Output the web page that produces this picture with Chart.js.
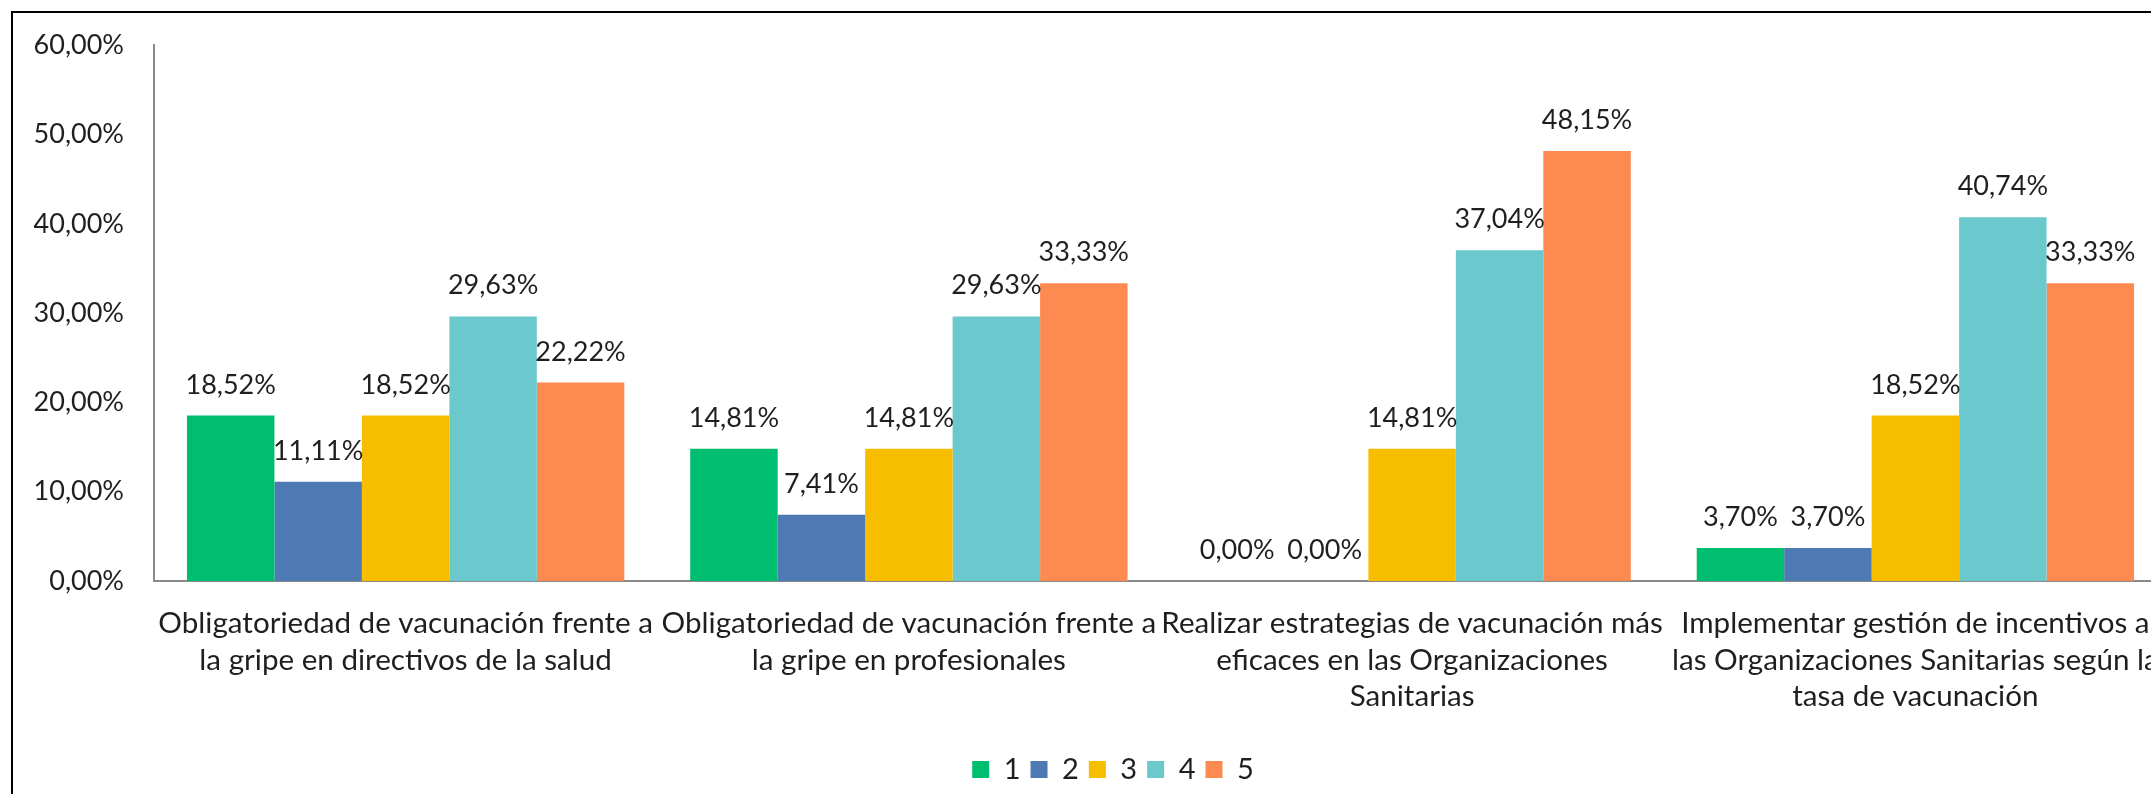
<!DOCTYPE html>
<html><head><meta charset="utf-8">
<script src="https://cdn.jsdelivr.net/npm/chart.js@4.4.1/dist/chart.umd.min.js"></script>
<style>
html,body{margin:0;padding:0;overflow:hidden;background:#fff;width:2151px;height:794px;}
#frame{position:absolute;left:11px;top:11px;width:2400px;height:1000px;border-left:2px solid #000;border-top:2px solid #000;box-sizing:border-box;}
#wrap{position:absolute;left:13px;top:-1px;width:2200px;height:804px;}
</style></head><body>
<div id="frame"></div>
<div id="wrap"><canvas id="c"></canvas></div>
<script>
// ---- data ----
const categories = [
  ["Obligatoriedad de vacunación frente a", "la gripe en directivos de la salud"],
  ["Obligatoriedad de vacunación frente a", "la gripe en profesionales"],
  ["Realizar estrategias de vacunación más", "eficaces en las Organizaciones", "Sanitarias"],
  ["Implementar gestión de incentivos a", "las Organizaciones Sanitarias según la", "tasa de vacunación"]
];
const seriesNames = ["1", "2", "3", "4", "5"];
const series1 = [18.52, 14.81, 0.00, 3.70];
const series2 = [11.11, 7.41, 0.00, 3.70];
const series3 = [18.52, 14.81, 14.81, 18.52];
const series4 = [29.63, 29.63, 37.04, 40.74];
const series5 = [22.22, 33.33, 48.15, 33.33];
const yTickValues = [0, 10, 20, 30, 40, 50, 60];

// ---- styles ----
const seriesColors = ["#00BE70", "#4E7AB4", "#F7BE00", "#6BC8CC", "#FD8A50"];
const FONT = "Lato, 'Open Sans', sans-serif";
const FS_NUM = 27;
const FS_CAT = 29.6;
const FS_LEG = 29;
const TXT = "#1f1f1f";
const AXIS = "#8a8a8a";

const fmt = v => v.toFixed(2).replace('.', ',') + '%';

const allSeries = [series1, series2, series3, series4, series5];
const datasets = allSeries.map((d, i) => ({
  label: seriesNames[i],
  data: d,
  backgroundColor: seriesColors[i],
  borderWidth: 0,
  categoryPercentage: 0.869,
  barPercentage: 1.0
}));

const valueLabels = {
  id: 'valueLabels',
  afterDatasetsDraw(chart) {
    const ctx = chart.ctx;
    ctx.save();
    ctx.font = FS_NUM + "px " + FONT;
    ctx.fillStyle = TXT;
    ctx.textAlign = 'center';
    ctx.textBaseline = 'alphabetic';
    chart.data.datasets.forEach((ds, di) => {
      const meta = chart.getDatasetMeta(di);
      meta.data.forEach((bar, i) => {
        ctx.fillText(fmt(ds.data[i]), bar.x, bar.y - 22);
      });
    });
    ctx.restore();
  }
};

// center the legend on the whole chart frame (Excel style)
const legendShift = {
  id: 'legendShift',
  afterLayout(chart) {
    if (chart.legend) { chart.legend.left += 23; chart.legend.right += 23; }
  }
};

new Chart(document.getElementById('c'), {
  type: 'bar',
  data: { labels: categories, datasets },
  options: {
    responsive: true,
    maintainAspectRatio: false,
    animation: false,
    layout: { padding: { top: 16, right: 46, bottom: 9, left: 0 } },
    scales: {
      x: {
        grid: { display: false, drawTicks: false },
        border: { display: true, color: AXIS, width: 2 },
        ticks: {
          color: TXT, font: { family: FONT, size: FS_CAT, lineHeight: 1.24 },
          padding: 24, maxRotation: 0, minRotation: 0, autoSkip: false
        },
        afterFit(axis) { axis.height = 164; }
      },
      y: {
        min: 0, max: 60,
        afterBuildTicks(axis) { axis.ticks = yTickValues.map(v => ({ value: v })); },
        grid: { display: false, drawTicks: false },
        border: { display: true, color: AXIS, width: 2 },
        ticks: {
          color: TXT, font: { family: FONT, size: FS_NUM },
          padding: 30,
          callback: v => fmt(v)
        },
        afterFit(axis) { axis.width = 141; }
      }
    },
    plugins: {
      legend: {
        position: 'bottom',
        labels: {
          boxWidth: 17, boxHeight: 17, padding: 10,
          color: TXT, font: { family: FONT, size: FS_LEG }
        }
      },
      tooltip: { enabled: false }
    }
  },
  plugins: [valueLabels, legendShift]
});
</script>
</body></html>
